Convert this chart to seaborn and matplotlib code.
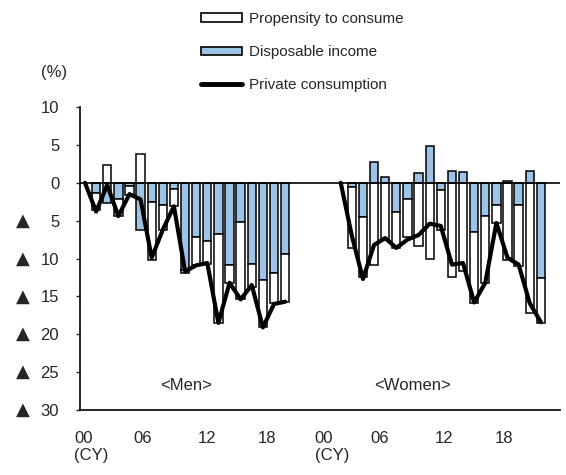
import numpy as np
import matplotlib
matplotlib.use('Agg')
import matplotlib.pyplot as plt
import seaborn as sns
from matplotlib.patches import Patch
from matplotlib.lines import Line2D

# data (CY 2000-2018), % change from 2000
years = [f'{y:02d}' for y in range(0, 19)]

men_income = [-1.4, -2.7, -2.2, -0.4, -6.3, -2.5, -2.9, -0.8, -11.5,
              -7.1, -7.7, -6.8, -10.9, -5.2, -10.7, -12.8, -11.9, -9.4]
men_propensity = [-2.2, 2.3, -2.2, -1.2, 3.8, -7.7, -3.4, -2.3, -0.4,
                  -3.8, -3.0, -11.7, -2.3, -10.2, -3.0, -6.2, -4.0, -6.3]
men_consumption = [0, -3.8, -0.3, -4.4, -1.5, -2.2, -9.9, -6.2, -3.1, -11.7,
                   -10.9, -10.6, -18.5, -13.2, -15.4, -13.5, -19.1, -16.0, -15.7]

women_income = [-0.5, -4.5, 2.8, 0.7, -3.9, -2.2, 1.3, 4.9, -0.9,
                1.6, 1.4, -6.5, -4.4, -3.0, 0.2, -3.0, 1.5, -12.6]
women_propensity = [-8.1, -8.0, -10.9, -7.5, -4.7, -5.0, -8.4, -10.1, -5.3,
                    -12.4, -11.7, -9.4, -8.8, -2.3, -10.2, -8.0, -17.2, -5.9]
women_consumption = [0, -7.0, -12.7, -8.2, -7.3, -8.6, -7.5, -6.9, -5.4, -5.7,
                     -10.8, -10.6, -15.8, -13.2, -5.3, -9.9, -10.8, -15.9, -18.4]

yticks = [10, 5, 0, -5, -10, -15, -20, -25, -30]
ytick_labels = ['10', '5', '0', '5', '10', '15', '20', '25', '30']
xtick_labels = ['00\n(CY)', '06', '12', '18', '00\n(CY)', '06', '12', '18']

BLUE = '#9dc3e6'
WOMEN_OFFSET = 23

sns.set_style('white')
plt.rcParams['font.family'] = ['Liberation Sans', 'DejaVu Sans']
plt.rcParams['font.size'] = 11

fig = plt.figure(figsize=(5.66, 4.75), dpi=100)
ax = fig.add_axes([0.1413, 0.1368, 0.8477, 0.6379])


def draw_group(income, propensity, consumption, offset):
    income = np.array(income)
    propensity = np.array(propensity)
    x = np.arange(1, len(income) + 1) + offset
    ax.bar(x, income, width=0.75, color=BLUE, edgecolor='black', linewidth=1.1, zorder=2)
    bottom = np.where(propensity < 0, np.minimum(income, 0), np.maximum(income, 0))
    ax.bar(x, propensity, bottom=bottom, width=0.75, color='white',
           edgecolor='black', linewidth=1.1, zorder=2)
    xl = np.arange(len(consumption)) + offset
    sns.lineplot(x=xl, y=consumption, color='black', linewidth=3.0, ax=ax, zorder=3)


draw_group(men_income, men_propensity, men_consumption, 0)
draw_group(women_income, women_propensity, women_consumption, WOMEN_OFFSET)

ax.axhline(0, color='black', linewidth=1.2, zorder=4)

ax.set_xlim(-0.45, 42.7)
ax.set_ylim(-30, 10)
ax.set_yticks(yticks)
ax.set_yticklabels(ytick_labels, fontsize=12)
ax.set_xticks([0.6, 5.2, 10.97, 16.37, 22.2, 26.5, 32.3, 37.7])
ax.set_xticklabels(xtick_labels, va='top', ha='center', multialignment='left', fontsize=12)
ax.tick_params(axis='y', direction='out', length=3, width=1, pad=12, left=True)
ax.tick_params(axis='x', length=0, pad=15)

# negative markers in front of the y tick labels
trans = ax.get_yaxis_transform()
for v in yticks:
    if v < 0:
        ax.text(-0.12, v, '▲', transform=trans, ha='center', va='center',
                family='DejaVu Sans', fontsize=13)

for side in ['top', 'right']:
    ax.spines[side].set_visible(False)
for side in ['left', 'bottom']:
    ax.spines[side].set_color('black')
    ax.spines[side].set_linewidth(1.2)

ax.text(9.1, -26.7, '<Men>', ha='center', va='center', fontsize=12)
ax.text(29.5, -26.7, '<Women>', ha='center', va='center', fontsize=12)
fig.text(54 / 566, 1 - 73 / 475, '(%)', ha='center', va='center', fontsize=12)

handles = [
    Patch(facecolor='white', edgecolor='black', linewidth=1.2),
    Patch(facecolor=BLUE, edgecolor='black', linewidth=1.2),
    Line2D([], [], color='black', linewidth=3.5),
]
labels = ['Propensity to consume', 'Disposable income', 'Private consumption']
fig.legend(handles, labels, loc='upper left', bbox_to_anchor=(201 / 566, 1 - 12 / 475),
           frameon=False, borderpad=0, handlelength=2.7, handleheight=0.45,
           handletextpad=0.45, labelspacing=1.25, borderaxespad=0)

fig.savefig('out.png', dpi=100)
